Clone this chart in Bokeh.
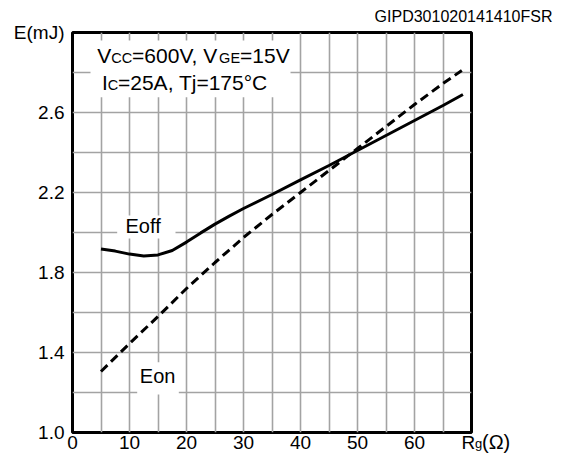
from bokeh.plotting import figure
from bokeh.models import Label, BoxAnnotation, FixedTicker, NumeralTickFormatter
from bokeh.core.properties import value
from bokeh.embed import file_html
from bokeh.resources import INLINE

# Switching energy vs. gate resistance (Vcc=600V, Vge=15V, Ic=25A, Tj=175°C)
rg_off = [5, 7.5, 10, 12.5, 15, 17.5, 20, 22.5, 25, 27.5, 30, 35, 40, 45, 50,
          55, 60, 65, 68.5]
e_off = [1.918, 1.907, 1.892, 1.883, 1.888, 1.910, 1.952, 1.998, 2.042, 2.082,
         2.120, 2.190, 2.263, 2.335, 2.410, 2.485, 2.560, 2.635, 2.690]

rg_on = [5, 10, 15, 20, 25, 30, 35, 40, 45, 50, 55, 60, 65, 68.3]
e_on = [1.305, 1.445, 1.580, 1.720, 1.850, 1.975, 2.090, 2.200, 2.310, 2.420,
        2.530, 2.640, 2.745, 2.810]

x_ticks = [0, 10, 20, 30, 40, 50, 60]
y_ticks = [1.0, 1.4, 1.8, 2.2, 2.6, 3.0]
x_grid = [5, 10, 15, 20, 25, 30, 35, 40, 45, 50, 55, 60, 65]
y_grid = [1.2, 1.4, 1.6, 1.8, 2.0, 2.2, 2.4, 2.6, 2.8]

FONT = "Liberation Sans"
X0, Y0, XMAX, YMIN, YMAX = 0, 1.0, 70, 1.0, 3.0
LEFT, TOP, FW, FH = 72, 32, 399, 400

p = figure(width=567, height=456, x_range=(X0, XMAX), y_range=(YMIN, YMAX),
           output_backend="svg", toolbar_location=None,
           min_border_left=LEFT, min_border_right=567 - LEFT - FW,
           min_border_top=TOP, min_border_bottom=456 - TOP - FH)

p.background_fill_color = "white"
p.border_fill_color = "white"
p.outline_line_color = "black"
p.outline_line_width = 3

# grid
p.xgrid.ticker = FixedTicker(ticks=x_grid)
p.ygrid.ticker = FixedTicker(ticks=y_grid)
for g in (p.xgrid, p.ygrid):
    g.grid_line_color = "#a3a3a3"
    g.grid_line_width = 1.6

# axes; the unit label E(mJ) sits at the top of the y axis
p.xaxis.ticker = FixedTicker(ticks=x_ticks)
p.yaxis.ticker = FixedTicker(ticks=y_ticks)
p.yaxis.formatter = NumeralTickFormatter(format="0.0")
p.yaxis.major_label_overrides = {3.0: "E(mJ)", 3: "E(mJ)"}
for ax in (p.xaxis, p.yaxis):
    ax.axis_line_color = None
    ax.major_tick_line_color = None
    ax.minor_tick_line_color = None
    ax.major_tick_out = 0
    ax.major_tick_in = 0
    ax.major_label_text_font = FONT
    ax.major_label_text_font_size = "19px"
    ax.major_label_text_color = "black"
p.xaxis.major_label_standoff = 3
p.yaxis.major_label_standoff = 8

# white patches behind the in-plot texts
for l, r, b, t in [(3.16, 38.25, 2.6765, 2.96),
                   (7.84, 18.07, 1.97, 2.085),
                   (11.35, 18.65, 1.19, 1.3515)]:
    p.add_layout(BoxAnnotation(left=l, right=r, bottom=b, top=t,
                               fill_color="white", fill_alpha=1.0,
                               line_color=None, level="underlay"))

# curves
p.line(rg_off, e_off, line_color="black", line_width=3)
p.line(rg_on, e_on, line_color="black", line_width=3, line_dash="9 5")


def at(px, py, size):
    """Pixel position of a text's left end / baseline -> data coordinates.
    The svg text is laid out about 0.38 em below the requested baseline,
    so the anchor is raised by that amount."""
    x = X0 + (px - LEFT) * (XMAX - X0) / FW
    y = YMIN + (TOP + FH - py + 0.38 * size) * (YMAX - YMIN) / FH
    return x, y


def put(px, py, text, size):
    # text inside the plot area
    x, y = at(px, py, size)
    p.text(x=[x], y=[y], text=[text], text_font=value(FONT),
           text_font_size=value(f"{size}px"), text_color="black",
           text_align="left", text_baseline="alphabetic")


def side(px, py, text, size, place, align="left"):
    # text in the margins around the plot area
    x, y = at(px, py, size)
    p.add_layout(Label(x=x, y=y, text=text, text_font=FONT,
                       text_font_size=f"{size}px", text_color="black",
                       text_align=align, text_baseline="alphabetic"), place)


# condition box
put(96.7, 63.3, "V", 21)
put(110.7, 63.3, "CC", 14.5)
put(131.6, 63.3, "=600V, V", 21)
put(218.6, 63.3, "GE", 14.5)
put(239.6, 63.3, "=15V", 21)
put(101.5, 90, "I", 21)
put(107.3, 90, "C", 14.5)
put(117.5, 90, "=25A, Tj=175°C", 21)

# curve names
put(125, 233, "Eoff", 20)
put(139.3, 382.7, "Eon", 20)

# figure code and x-axis title
side(552, 22, "GIPD301020141410FSR", 16, "above", align="right")
side(461, 449, "R", 19, "right")
side(474.5, 448, "g", 13, "right")
side(481.5, 449, "(Ω)", 20, "right")

open("out.html", "w").write(file_html(p, INLINE))
